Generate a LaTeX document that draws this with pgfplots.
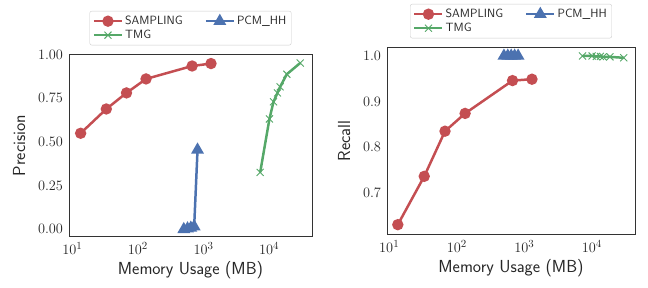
\documentclass[border=0pt]{standalone}
\usepackage{pgfplots}
\pgfplotsset{compat=1.18}
\definecolor{cR}{HTML}{C44E52}
\definecolor{cG}{HTML}{55A868}
\definecolor{cB}{HTML}{4C72B0}
\pgfplotsset{
  myax/.style={
    scale only axis,
    axis line style={draw=black!80, line width=0.9pt},
    major tick length=0pt, minor tick length=0pt,
    xtick={10,100,1000,10000},
    tick label style={font=\fontsize{15}{15}\selectfont, text=black!85},
    yticklabel style={xshift=-2.5bp},
    xticklabel style={yshift=-2bp},
    label style={font=\sffamily\fontsize{17.5}{17.5}\selectfont, text=black!85},
    ylabel shift=6bp,
    xlabel={Memory Usage (MB)},
    legend columns=2,
    legend cell align=left,
    legend style={at={(0.5,1)}, yshift=9bp, anchor=south,
      font=\sffamily\fontsize{12}{13}\selectfont, text=black!85,
      draw=black!20, rounded corners=2pt, inner sep=3pt,
      /tikz/every even column/.append style={column sep=20bp}},
    legend image code/.code={\draw[mark repeat=2,mark phase=2] plot coordinates {(0bp,0bp) (14bp,0bp) (28bp,0bp)};},
  },
  sR/.style={color=cR, line width=2.5pt, mark=*, mark size=4.4pt, mark options={solid}},
  sB/.style={color=cB, line width=2.5pt, mark=triangle*, mark size=5pt, mark options={solid}},
  sG/.style={color=cG, line width=2.5pt, mark=x, mark size=5pt, mark options={solid, line width=0.9pt}},
}
\begin{document}
\begin{tikzpicture}
\path[use as bounding box] (0,0) rectangle (648bp,288bp);
% Left: precision
\begin{axis}[xmode=log, log basis x=10, myax, at={(69bp,51.3bp)}, anchor=south west,
  width=243bp, height=182.4bp,
  xmin=8.91, xmax=44980, ymin=-0.042, ymax=1.002,
  ytick={0,0.25,0.5,0.75,1},
  yticklabel style={/pgf/number format/fixed, /pgf/number format/fixed zerofill, /pgf/number format/precision=2},
  ylabel={Precision}]
\addplot[sR] coordinates {(13.4,0.550) (33,0.689) (67,0.781) (133,0.861) (670,0.935) (1300,0.949)};
\addlegendentry{SAMPLING}
\addplot[sB] coordinates {(500,0.0) (570,0.004) (640,0.008) (720,0.016) (810,0.455)};
\addlegendentry{PCM\_HH}
\addplot[sG] coordinates {(7300,0.326) (10100,0.632) (11650,0.730) (13400,0.781) (14700,0.816) (18600,0.888) (29700,0.952)};
\addlegendentry{TMG}
\end{axis}
% Right: recall
\begin{axis}[xmode=log, log basis x=10, myax, at={(387bp,53.3bp)}, anchor=south west,
  width=248bp, height=187.4bp,
  xmin=9.27, xmax=43650, ymin=0.608, ymax=1.019,
  ytick={0.7,0.8,0.9,1.0},
  yticklabel style={/pgf/number format/fixed, /pgf/number format/fixed zerofill, /pgf/number format/precision=1},
  ylabel={Recall}]
\addplot[sR] coordinates {(13.4,0.630) (33,0.736) (67,0.835) (133,0.874) (670,0.946) (1300,0.949)};
\addlegendentry{SAMPLING}
\addplot[sB] coordinates {(500,1.0) (570,1.0) (640,1.0) (720,1.0) (810,1.0)};
\addlegendentry{PCM\_HH}
\addplot[sG] coordinates {(7300,1.0) (10100,1.0) (11650,0.999) (13400,0.999) (14700,0.998) (18600,0.998) (29700,0.996)};
\addlegendentry{TMG}
\end{axis}
\end{tikzpicture}
\end{document}
